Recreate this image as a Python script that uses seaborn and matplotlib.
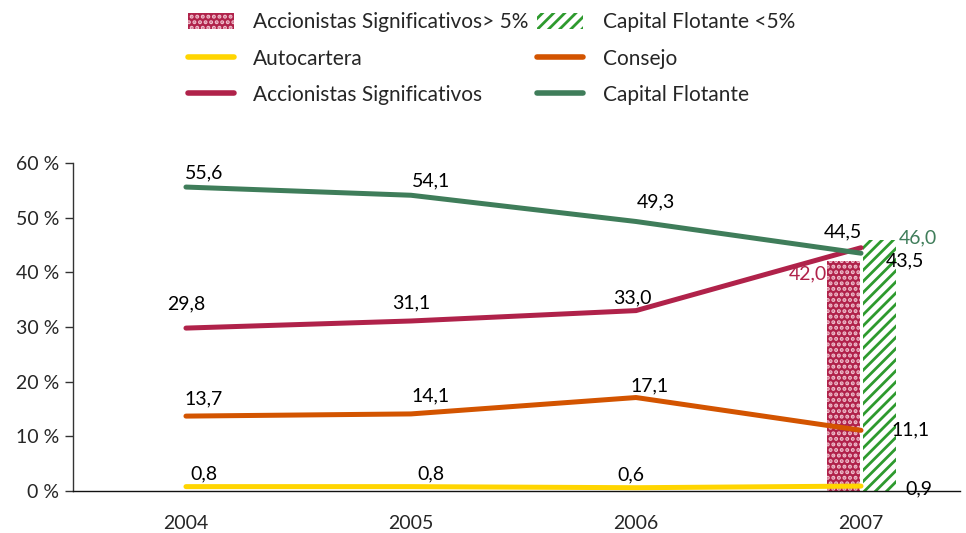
import numpy as np
import pandas as pd
import matplotlib
matplotlib.use("Agg")
import matplotlib.pyplot as plt
import seaborn as sns
from matplotlib.patches import Patch
from matplotlib.lines import Line2D

years = [2004, 2005, 2006, 2007]
autocartera = [0.8, 0.8, 0.6, 0.9]
consejo = [13.7, 14.1, 17.1, 11.1]
accionistas = [29.8, 31.1, 33.0, 44.5]
capital_flotante = [55.6, 54.1, 49.3, 43.5]

bar_year = 2007
acc_mayor_5 = 42.0
flotante_menor_5 = 46.0

series_names = ["Autocartera", "Consejo", "Accionistas Significativos", "Capital Flotante"]
colors = {
    "Autocartera": "#FFD500",
    "Consejo": "#D35400",
    "Accionistas Significativos": "#B0224A",
    "Capital Flotante": "#3F7D5A",
}

df = pd.DataFrame({
    "year": years * 4,
    "value": autocartera + consejo + accionistas + capital_flotante,
    "serie": [n for n in series_names for _ in years],
})

sns.set_style("white")
plt.rcParams["font.family"] = ["Lato", "DejaVu Sans"]
plt.rcParams["hatch.linewidth"] = 2.0

fig = plt.figure(figsize=(9.66, 5.33), dpi=100)
ax = fig.add_axes([73 / 966, 1 - 491 / 533, (960 - 73) / 966, (491 - 163) / 533])

# bars for 2007 (drawn under the lines)
bw = 0.145
ax.bar(bar_year - bw / 2 - 0.005, acc_mayor_5, width=bw, color="#B0224A",
       edgecolor="#F0C0CE", hatch="...", linewidth=0, zorder=1)
ax.bar(bar_year + bw / 2 + 0.01, flotante_menor_5, width=bw, color="white",
       edgecolor="#2E9A2E", hatch="///", linewidth=0, zorder=1)

sns.lineplot(data=df, x="year", y="value", hue="serie", palette=colors,
             linewidth=3.6, legend=False, ax=ax, zorder=3,
             solid_capstyle="round")

ax.set_xlabel("")
ax.set_ylabel("")
ax.set_xlim(2004 - 0.502, 2007 + 0.44)
ax.set_ylim(0, 60)
ax.set_yticks(range(0, 61, 10))
ax.set_yticklabels([f"{v} %" for v in range(0, 61, 10)], fontsize=14)
ax.set_xticks(years)
ax.set_xticklabels([str(y) for y in years], fontsize=14)
ax.tick_params(axis="y", length=6, width=1, color="#333333", pad=4, left=True)
ax.tick_params(axis="x", length=0, pad=17)
for s in ["top", "right"]:
    ax.spines[s].set_visible(False)
ax.spines["left"].set_color("#333333")
ax.spines["bottom"].set_color("#111111")
ax.spines["left"].set_linewidth(1)
ax.spines["bottom"].set_linewidth(1)

def fmt(v):
    return f"{v:.1f}".replace(".", ",")

# label offsets in pixels (dx, dy)
offsets = {
    "Capital Flotante": [(18, 14), (20, 14), (20, 20), (44, -8)],
    "Accionistas Significativos": [(0, 24), (0, 18), (-4, 13), (-18, 16)],
    "Consejo": [(18, 17), (20, 18), (14, 12), (50, 0)],
    "Autocartera": [(18, 13), (20, 13), (-5, 13), (58, -3)],
}
vals = {"Autocartera": autocartera, "Consejo": consejo,
        "Accionistas Significativos": accionistas, "Capital Flotante": capital_flotante}
for name in series_names:
    for i, y in enumerate(years):
        ax.annotate(fmt(vals[name][i]), (y, vals[name][i]), xytext=offsets[name][i],
                    textcoords="offset pixels", ha="center", va="center",
                    fontsize=14, color="black", zorder=5)

ax.annotate(fmt(acc_mayor_5), (bar_year - bw, acc_mayor_5), xytext=(-20, -12),
            textcoords="offset pixels", ha="center", va="center",
            fontsize=14, color="#B0224A", zorder=5)
ax.annotate(fmt(flotante_menor_5), (bar_year + bw, flotante_menor_5), xytext=(24, 2),
            textcoords="offset pixels", ha="center", va="center",
            fontsize=14, color="#3F7D5A", zorder=5)

handles = [
    Patch(facecolor="#B0224A", edgecolor="#F0C0CE", hatch="...", linewidth=0,
          label="Accionistas Significativos> 5%"),
    Line2D([], [], color=colors["Autocartera"], lw=4, solid_capstyle="round", label="Autocartera"),
    Line2D([], [], color=colors["Accionistas Significativos"], lw=4, solid_capstyle="round",
           label="Accionistas Significativos"),
    Patch(facecolor="white", edgecolor="#2E9A2E", hatch="///", linewidth=0,
          label="Capital Flotante <5%"),
    Line2D([], [], color=colors["Consejo"], lw=4, solid_capstyle="round", label="Consejo"),
    Line2D([], [], color=colors["Capital Flotante"], lw=4, solid_capstyle="round",
           label="Capital Flotante"),
]
fig.legend(handles=handles, ncol=2, loc="upper left", bbox_to_anchor=(169 / 966, 1.012),
           frameon=False, fontsize=15, handlelength=2.2, handleheight=0.8,
           handletextpad=0.95, columnspacing=0.4, labelspacing=0.78)

fig.savefig("out.png", dpi=100)
